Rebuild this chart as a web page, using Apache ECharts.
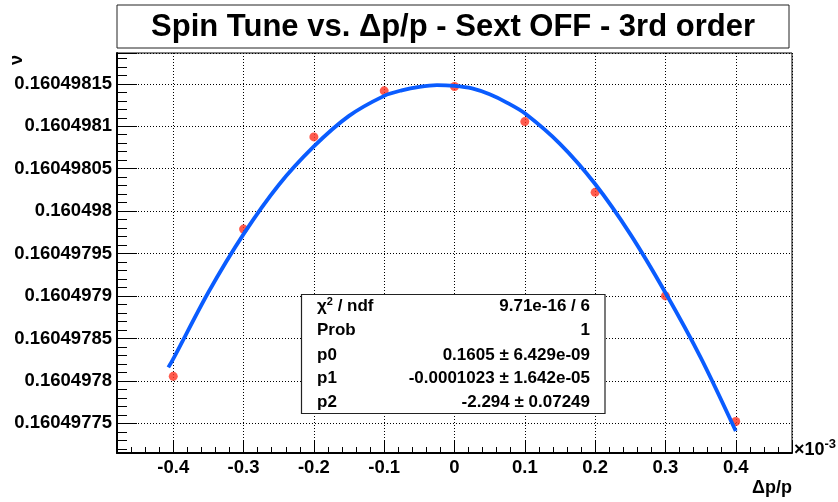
<!DOCTYPE html>
<html><head><meta charset="utf-8">
<script src="https://cdn.jsdelivr.net/npm/echarts@6/dist/echarts.min.js"></script>
<style>html,body{margin:0;padding:0;background:#fff}#c{width:838px;height:502px}</style>
</head><body><div id="c"></div>
<script>
// Measured data points (Δp/p in units of 1e-3, spin tune ν)
const pointX = [-0.4, -0.3, -0.2, -0.1, 0, 0.1, 0.2, 0.3, 0.4];
const pointY = [0.1604978053, 0.1604979788, 0.1604980874, 0.1604981417, 0.1604981468,
                0.1604981055, 0.1604980221, 0.1604979001, 0.1604977521];
// Fit curve
const fitX = [-0.407, -0.4, -0.35, -0.3, -0.25, -0.2, -0.15, -0.1, -0.075, -0.05, -0.025, 0,
              0.025, 0.05, 0.075, 0.1, 0.15, 0.2, 0.25, 0.3, 0.35, 0.4];
const fitY = [0.1604978159, 0.1604978259, 0.1604979044, 0.1604979729, 0.1604980308,
              0.1604980762, 0.1604981122, 0.1604981358, 0.1604981423, 0.1604981465,
              0.1604981485, 0.1604981476, 0.1604981446, 0.1604981376, 0.1604981276,
              0.1604981152, 0.1604980792, 0.1604980319, 0.1604979729,
              0.1604979038, 0.1604978277, 0.1604977409];
const xRange = [-0.48, 0.48];
const yRange = [0.160497715, 0.1604981863];
const titleText = 'Spin Tune vs. Δp/p - Sext OFF - 3rd order';
const statsLabels = ['{a|χ}{s|2}{a| / ndf}', 'Prob', 'p0', 'p1', 'p2'];
const statsValues = ['9.71e-16 / 6', '1', '0.1605 ± 6.429e-09', '-0.0001023 ± 1.642e-05', '-2.294 ± 0.07249'];

const FF = '"Liberation Sans", Arial, Helvetica, sans-serif';
const chart = echarts.init(document.getElementById('c'), null, {renderer: 'canvas'});

const statsRowY = [306, 330.5, 355, 378.5, 402];
const graphics = [
  {type: 'rect', z: 100, shape: {x: 117, y: 5, width: 672, height: 43},
   style: {fill: '#fff', stroke: '#222', lineWidth: 1}},
  {type: 'text', z: 101, x: 453, y: 27,
   style: {text: titleText, font: 'bold 31px ' + FF, fill: '#000', align: 'center', verticalAlign: 'middle'}},
  {type: 'text', z: 101, x: 17, y: 60, rotation: Math.PI / 2,
   style: {text: 'ν', font: 'bold 18px ' + FF, fill: '#000', align: 'center', verticalAlign: 'middle'}},
  {type: 'text', z: 101, x: 792, y: 488,
   style: {text: 'Δp/p', font: 'bold 18px ' + FF, fill: '#000', align: 'right', verticalAlign: 'middle'}},
  {type: 'text', z: 101, x: 794, y: 450,
   style: {text: '{b|×10}{s|-3}', fill: '#000', align: 'left', verticalAlign: 'middle',
     rich: {b: {font: 'bold 18px ' + FF, fill: '#000'},
            s: {font: 'bold 13px ' + FF, fill: '#000', padding: [0, 0, 12, 0]}}}},
  {type: 'rect', z: 100, shape: {x: 301.5, y: 294.5, width: 303.5, height: 119},
   style: {fill: '#fff', stroke: '#222', lineWidth: 1.2}}
];
statsLabels.forEach((t, i) => {
  graphics.push({type: 'text', z: 101, x: 317, y: statsRowY[i],
    style: {text: t, font: 'bold 17px ' + FF, fill: '#000', align: 'left', verticalAlign: 'middle',
      rich: {a: {font: 'bold 17px ' + FF, fill: '#000'},
             s: {font: 'bold 11px ' + FF, fill: '#000', padding: [0, 0, 9, 0]}}}});
  graphics.push({type: 'text', z: 101, x: 590, y: statsRowY[i],
    style: {text: statsValues[i], font: 'bold 17px ' + FF, fill: '#000', align: 'right', verticalAlign: 'middle'}});
});

const gridLine = {show: true, lineStyle: {color: '#000', type: [1, 2], width: 1}};
chart.setOption({
  animation: false,
  backgroundColor: '#fff',
  grid: {left: 117, right: 46, top: 53, bottom: 49, containLabel: false, outerBoundsMode: 'none',
         show: true, borderColor: '#000', borderWidth: 1, backgroundColor: 'transparent'},
  xAxis: {
    type: 'value', min: xRange[0], max: xRange[1], splitNumber: 10,
    axisLine: {show: true, onZero: false, lineStyle: {color: '#000', width: 2}},
    axisTick: {show: true, inside: true, length: 12, lineStyle: {color: '#000', width: 1}},
    minorTick: {show: true, splitNumber: 5, length: 6, lineStyle: {color: '#000', width: 1}},
    splitLine: gridLine,
    axisLabel: {show: true, showMinLabel: false, showMaxLabel: false, margin: 5,
      fontFamily: FF, fontWeight: 'bold', fontSize: 18.5, color: '#000',
      formatter: v => (Math.abs(v) < 1e-9 ? '0' : String(+v.toFixed(2)))}
  },
  yAxis: {
    type: 'value', min: yRange[0], max: yRange[1], splitNumber: 9, scale: true,
    axisLine: {show: true, onZero: false, lineStyle: {color: '#000', width: 2}},
    axisTick: {show: true, inside: true, length: 20, lineStyle: {color: '#000', width: 1}},
    minorTick: {show: true, splitNumber: 5, length: 10, lineStyle: {color: '#000', width: 1}},
    splitLine: gridLine,
    axisLabel: {show: true, showMinLabel: false, showMaxLabel: false, margin: 5,
      fontFamily: FF, fontWeight: 'bold', fontSize: 18.5, color: '#000',
      formatter: v => String(+v.toFixed(9))}
  },
  series: [
    {type: 'scatter', z: 2, symbol: 'circle', symbolSize: 9,
     itemStyle: {color: '#ff3322'},
     data: pointX.map((x, i) => [x, pointY[i]])},
    {type: 'line', z: 3, smooth: 0.3, showSymbol: false, symbol: 'none',
     lineStyle: {color: '#0a5cff', width: 3.8},
     data: fitX.map((x, i) => [x, fitY[i]])}
  ],
  graphic: {elements: graphics}
});
</script>
</body></html>
